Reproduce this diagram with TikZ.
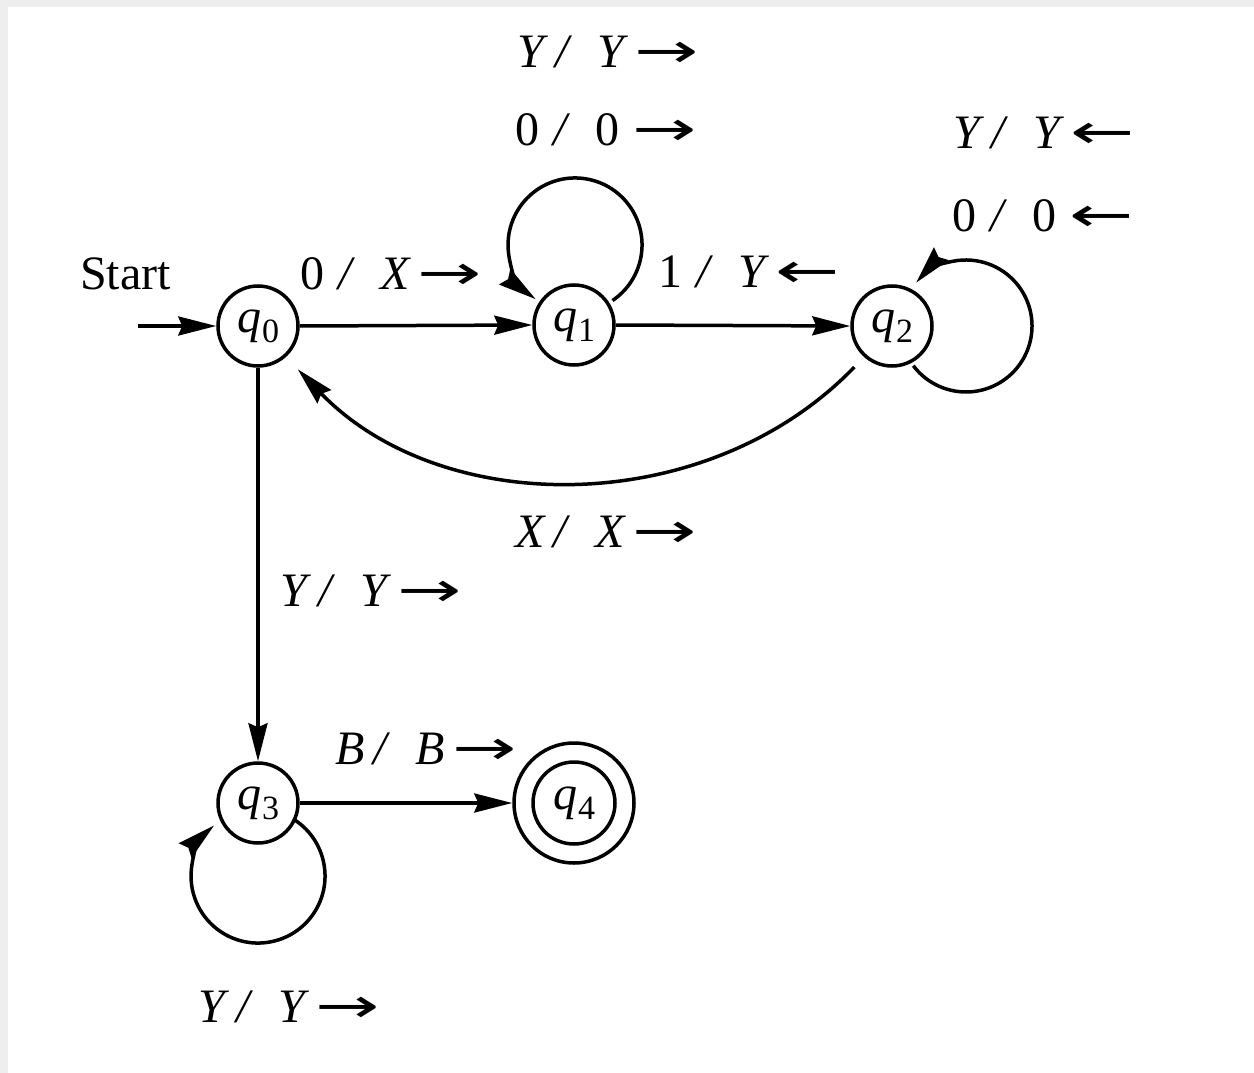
\documentclass[tikz,border=0pt]{standalone}
\usepackage{fontspec}
\usepackage{graphicx}
\setmainfont{Liberation Serif}
\newfontfamily\arrfont{DejaVu Sans}
\usetikzlibrary{arrows.meta}
\definecolor{bordergray}{HTML}{EEEEEE}
\newcommand\tmra{\scalebox{1.6}[1]{\arrfont →}}
\newcommand\tmla{\scalebox{1.6}[1]{\arrfont ←}}
\newcommand\tmlab[3]{\makebox[38pt][l]{#1}\makebox[42pt][l]{\textit{/}}\makebox[37pt][l]{#2}#3}
\newcommand\qn[1]{\textit{q}\kern1pt\raisebox{-10pt}{\fontsize{34}{34}\selectfont #1}}
\begin{document}
\begin{tikzpicture}[x=1pt,y=1pt,
  tmstate/.style={circle, draw, line width=3.5pt, minimum size=80pt, inner sep=0pt, font=\fontsize{48}{48}\selectfont},
  arr/.style={line width=3.5pt, -{Stealth[length=38pt,width=19pt,inset=4pt]}},
  lab/.style={inner sep=0pt, anchor=base west, font=\fontsize{48}{48}\selectfont}]
\useasboundingbox (0,0) rectangle (1254,-1073);
\fill[bordergray] (0,0) rectangle (1254,-1073);
\fill[white] (8,-7) rectangle (1254,-1073);

% states
\node[tmstate] (q0) at (258,-326) {\qn{0}};
\node[tmstate] (q1) at (574,-325) {\qn{1}};
\node[tmstate] (q2) at (892,-326) {\qn{2}};
\node[tmstate] (q3) at (258,-803) {\qn{3}};
\node[tmstate, minimum size=120pt] (q4) at (574,-803) {\qn{4}};
\draw[line width=3.5pt] (q4.center) circle[radius=41];

% start
\coordinate (s) at (138,-326);
\node[lab] (startlab) at (80,-289) {Start};
\draw[arr] (s) -- (q0.west);

% edges
\draw[arr] (q0.east) -- (q1.west);
\draw[arr] (q1.east) -- (q2.west);
\draw[arr] (q0.south) -- (q3.north);
\draw[arr] (q3.east) -- (q4.west);
\draw[arr, shorten <=14pt, shorten >=17pt] (q2.228) to[out=226, in=-46, looseness=1.0] (q0.-48);

% loops
\draw[arr] ([shift={(38.5,24.5)}]q1.center) arc[start angle=-56, end angle=234, radius=67];
\draw[arr] ([shift={(21.3,-39.7)}]q2.center) arc[start angle=217, end angle=499, radius=66];
\draw[arr] ([shift={(37.5,-17.5)}]q3.center) arc[start angle=56, end angle=-229, radius=67];

% labels
\node[lab] (l1a) at (517,-68) {\tmlab{\textit{Y}}{\textit{Y}}{\tmra}};
\node[lab] (l1b) at (515,-145) {\tmlab{0}{0}{\tmra}};
\node[lab] (l2a) at (953,-148) {\tmlab{\textit{Y}}{\textit{Y}}{\tmla}};
\node[lab] (l2b) at (952,-231) {\tmlab{0}{0}{\tmla}};
\node[lab] (l01) at (300,-289) {\tmlab{0}{\textit{X}}{\tmra}};
\node[lab] (l12) at (658,-287) {\tmlab{1}{\textit{Y}}{\tmla}};
\node[lab] (l20) at (515,-547) {\tmlab{\textit{X}}{\textit{X}}{\tmra}};
\node[lab] (l03) at (280,-606) {\tmlab{\textit{Y}}{\textit{Y}}{\tmra}};
\node[lab] (l34) at (335,-764) {\tmlab{\textit{B}}{\textit{B}}{\tmra}};
\node[lab] (l33) at (198,-1022) {\tmlab{\textit{Y}}{\textit{Y}}{\tmra}};
\end{tikzpicture}
\end{document}
